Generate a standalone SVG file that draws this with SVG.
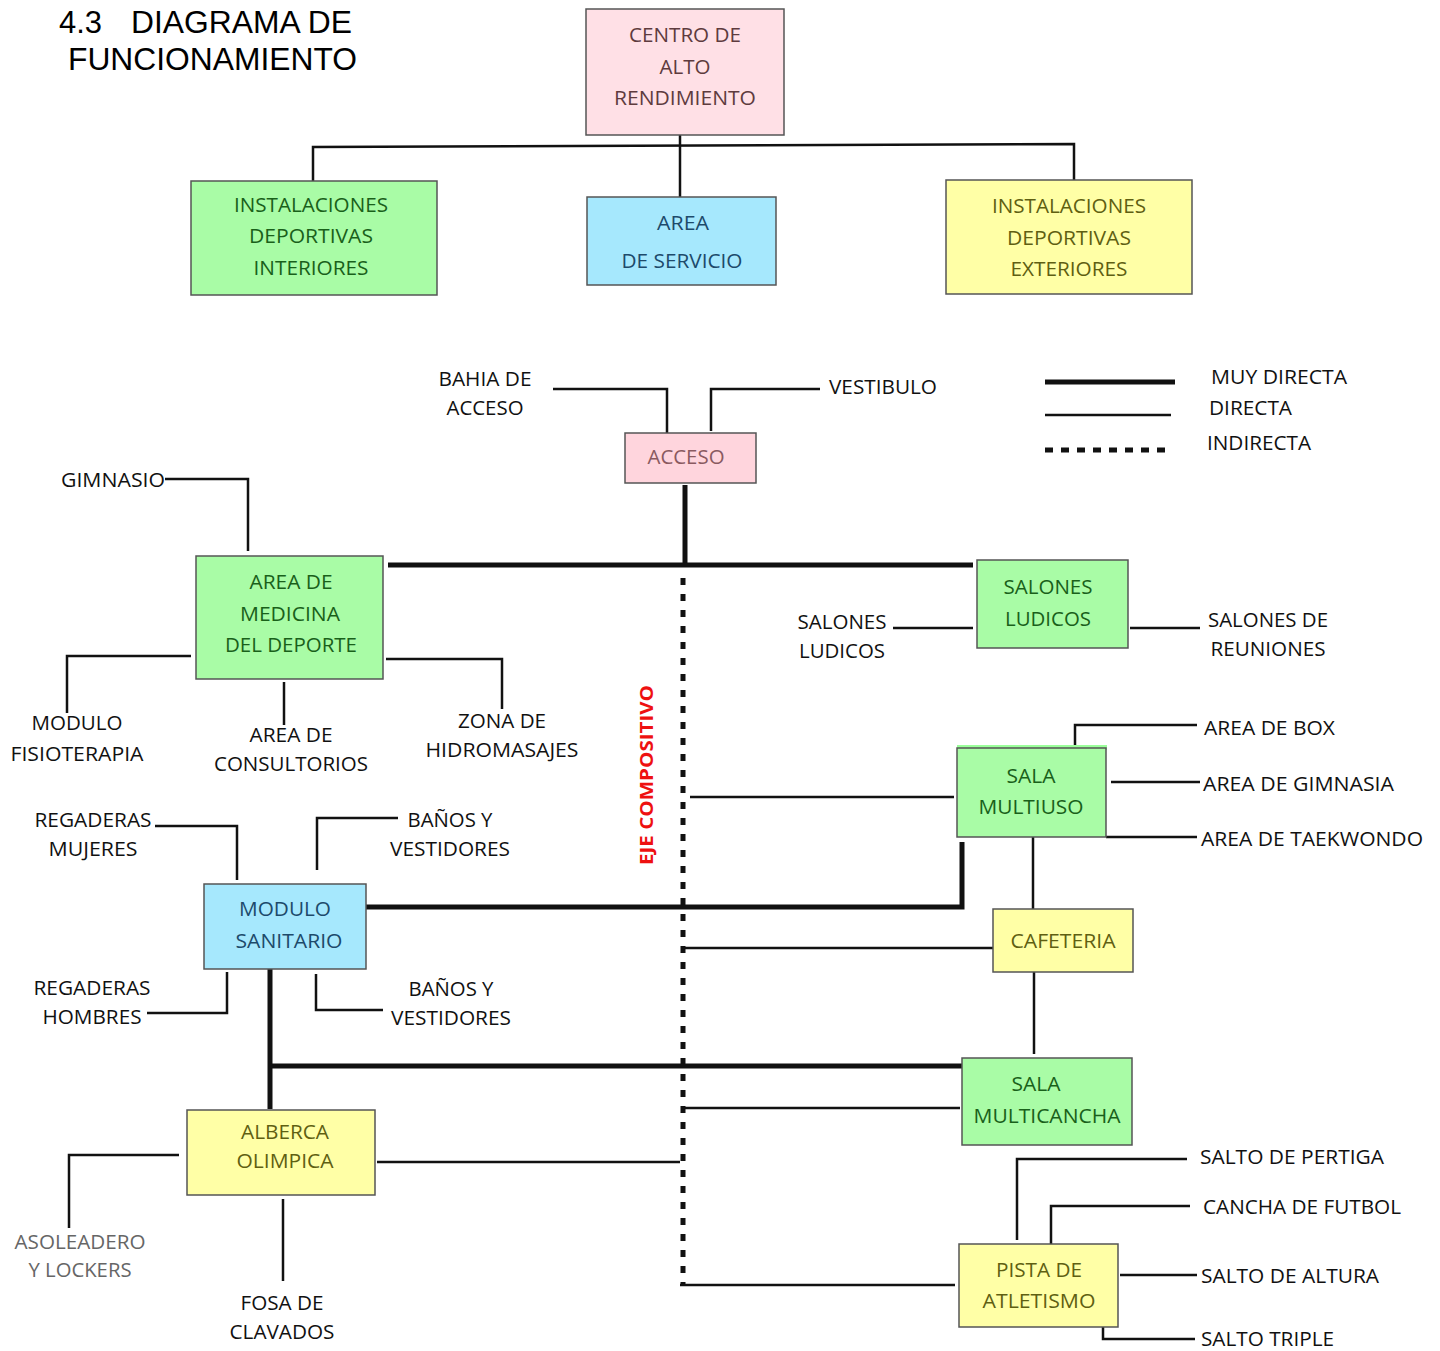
<svg xmlns="http://www.w3.org/2000/svg" width="1440" height="1351" viewBox="0 0 1440 1351">
<style>
text{font-family:"Open Sans","Liberation Sans",sans-serif;font-size:20px;text-anchor:middle;}
.title{font-family:"Liberation Sans",Arial,sans-serif;font-size:31.5px;text-anchor:start;fill:#000;}
.lbl{fill:#111;}
.st{text-anchor:start;}
.box{stroke:#555;stroke-width:1.5;}
.pink{fill:#ffe0e6;} .pinkT{fill:#5e3b3e;}
.pink2{fill:#ffd5dd;} .pink2T{fill:#8a5a60;}
.green{fill:#a9fca6;} .greenT{fill:#19601a;}
.blue{fill:#a6e8fd;} .blueT{fill:#1d4a6b;}
.yellow{fill:#ffffa6;} .yellowT{fill:#5f5f12;}
.thin{stroke:#111;stroke-width:2.5;fill:none;}
.thick{stroke:#111;stroke-width:5;fill:none;}
.dot{stroke:#111;stroke-width:5;fill:none;stroke-dasharray:7 9;}
.eje{fill:#ee1111;font-weight:bold;font-size:18px;}
</style>

<g id="title">
<text class="title" x="59" y="33" textLength="43" lengthAdjust="spacingAndGlyphs">4.3</text>
<text class="title" x="131" y="33" textLength="221" lengthAdjust="spacingAndGlyphs">DIAGRAMA DE</text>
<text class="title" x="68" y="70" textLength="289" lengthAdjust="spacingAndGlyphs">FUNCIONAMIENTO</text>
</g>

<g id="connectors">
<path class="thin" d="M313 181 V147 L1074 144 V180"/>
<path class="thin" d="M680 135 V197"/>
<path class="thin" d="M553 389 H667 V433"/>
<path class="thin" d="M820 389 H711 V431"/>
<path class="thick" d="M685 485 V565"/>
<path class="thick" d="M388 565 H973"/>
<path class="dot" d="M683 578 V1285"/>
<path class="thin" d="M165 479 H248 V551"/>
<path class="thin" d="M191 656 H67 V713"/>
<path class="thin" d="M284 682 V725"/>
<path class="thin" d="M386 659 H502 V709"/>
<path class="thin" d="M893 628 H973"/>
<path class="thin" d="M1130 628 H1200"/>
<path class="thin" d="M1075 748 V725 H1197"/>
<path class="thin" d="M1111 782 H1200"/>
<path class="thin" d="M1106 837 H1197"/>
<path class="thin" d="M690 797 H954"/>
<path class="thin" d="M1033 837 V909"/>
<path class="thick" d="M366 907 H962 V842"/>
<path class="thin" d="M155 826 H237 V880"/>
<path class="thin" d="M398 818 H317 V870"/>
<path class="thin" d="M147 1013 H227 V972"/>
<path class="thin" d="M316 974 V1010 H383"/>
<path class="thick" d="M270 969 V1109"/>
<path class="thick" d="M270 1066 H962"/>
<path class="thin" d="M683 948 H993"/>
<path class="thin" d="M1034 972 V1054"/>
<path class="thin" d="M683 1108 H960"/>
<path class="thin" d="M377 1162 H680"/>
<path class="thin" d="M179 1155 H69 V1228"/>
<path class="thin" d="M283 1199 V1281"/>
<path class="thin" d="M680 1285 H955"/>
<path class="thin" d="M1017 1240 V1159 H1187"/>
<path class="thin" d="M1051 1244 V1206 H1190"/>
<path class="thin" d="M1120 1275 H1197"/>
<path class="thin" d="M1103 1327 V1339 H1195"/>
</g>

<g id="legend">
<path class="thick" d="M1045 382 H1175"/>
<path class="thin" d="M1045 415 H1171"/>
<path stroke="#111" stroke-width="5" fill="none" stroke-dasharray="8 8" d="M1045 450 H1165"/>
<text class="lbl st" x="1211" y="384" textLength="136" lengthAdjust="spacingAndGlyphs">MUY DIRECTA</text>
<text class="lbl st" x="1209" y="415" textLength="83" lengthAdjust="spacingAndGlyphs">DIRECTA</text>
<text class="lbl st" x="1207" y="450" textLength="104" lengthAdjust="spacingAndGlyphs">INDIRECTA</text>
</g>

<g id="eje">
<text class="eje" transform="translate(653 775) rotate(-90)" textLength="180" lengthAdjust="spacingAndGlyphs">EJE COMPOSITIVO</text>
</g>

<g id="centro">
<rect class="box pink" x="586" y="9" width="198" height="126"/>
<text class="pinkT" x="685" y="42" textLength="112" lengthAdjust="spacingAndGlyphs">CENTRO DE</text>
<text class="pinkT" x="685" y="74" textLength="51" lengthAdjust="spacingAndGlyphs">ALTO</text>
<text class="pinkT" x="685" y="105" textLength="142" lengthAdjust="spacingAndGlyphs">RENDIMIENTO</text>
</g>

<g id="interiores">
<rect class="box green" x="191" y="181" width="246" height="114"/>
<text class="greenT" x="311" y="212" textLength="154" lengthAdjust="spacingAndGlyphs">INSTALACIONES</text>
<text class="greenT" x="311" y="243" textLength="124" lengthAdjust="spacingAndGlyphs">DEPORTIVAS</text>
<text class="greenT" x="311" y="275" textLength="115" lengthAdjust="spacingAndGlyphs">INTERIORES</text>
</g>

<g id="servicio">
<rect class="box blue" x="587" y="197" width="189" height="88"/>
<text class="blueT" x="683" y="230" textLength="52" lengthAdjust="spacingAndGlyphs">AREA</text>
<text class="blueT" x="682" y="268" textLength="121" lengthAdjust="spacingAndGlyphs">DE SERVICIO</text>
</g>

<g id="exteriores">
<rect class="box yellow" x="946" y="180" width="246" height="114"/>
<text class="yellowT" x="1069" y="213" textLength="154" lengthAdjust="spacingAndGlyphs">INSTALACIONES</text>
<text class="yellowT" x="1069" y="245" textLength="124" lengthAdjust="spacingAndGlyphs">DEPORTIVAS</text>
<text class="yellowT" x="1069" y="276" textLength="117" lengthAdjust="spacingAndGlyphs">EXTERIORES</text>
</g>

<g id="bahia">
<text class="lbl" x="485" y="386" textLength="93" lengthAdjust="spacingAndGlyphs">BAHIA DE</text>
<text class="lbl" x="485" y="415" textLength="77" lengthAdjust="spacingAndGlyphs">ACCESO</text>
</g>
<g id="vestibulo">
<text class="lbl st" x="829" y="394" textLength="108" lengthAdjust="spacingAndGlyphs">VESTIBULO</text>
</g>

<g id="acceso">
<rect class="box pink2" x="625" y="433" width="131" height="50"/>
<text class="pink2T" x="686" y="464" textLength="77" lengthAdjust="spacingAndGlyphs">ACCESO</text>
</g>

<g id="gimnasio">
<text class="lbl st" x="61" y="487" textLength="104" lengthAdjust="spacingAndGlyphs">GIMNASIO</text>
</g>

<g id="medicina">
<rect class="box green" x="196" y="556" width="187" height="123"/>
<text class="greenT" x="291" y="589" textLength="83" lengthAdjust="spacingAndGlyphs">AREA DE</text>
<text class="greenT" x="290" y="621" textLength="100" lengthAdjust="spacingAndGlyphs">MEDICINA</text>
<text class="greenT" x="291" y="652" textLength="132" lengthAdjust="spacingAndGlyphs">DEL DEPORTE</text>
</g>

<g id="fisioterapia">
<text class="lbl" x="77" y="730" textLength="91" lengthAdjust="spacingAndGlyphs">MODULO</text>
<text class="lbl" x="77" y="761" textLength="133" lengthAdjust="spacingAndGlyphs">FISIOTERAPIA</text>
</g>
<g id="consultorios">
<text class="lbl" x="291" y="742" textLength="83" lengthAdjust="spacingAndGlyphs">AREA DE</text>
<text class="lbl" x="291" y="771" textLength="154" lengthAdjust="spacingAndGlyphs">CONSULTORIOS</text>
</g>
<g id="hidromasajes">
<text class="lbl" x="502" y="728" textLength="88" lengthAdjust="spacingAndGlyphs">ZONA DE</text>
<text class="lbl" x="502" y="757" textLength="153" lengthAdjust="spacingAndGlyphs">HIDROMASAJES</text>
</g>

<g id="salones">
<rect class="box green" x="977" y="560" width="151" height="88"/>
<text class="greenT" x="1048" y="594" textLength="89" lengthAdjust="spacingAndGlyphs">SALONES</text>
<text class="greenT" x="1048" y="626" textLength="86" lengthAdjust="spacingAndGlyphs">LUDICOS</text>
</g>
<g id="salones-ludicos-lbl">
<text class="lbl" x="842" y="629" textLength="89" lengthAdjust="spacingAndGlyphs">SALONES</text>
<text class="lbl" x="842" y="658" textLength="86" lengthAdjust="spacingAndGlyphs">LUDICOS</text>
</g>
<g id="reuniones">
<text class="lbl" x="1268" y="627" textLength="120" lengthAdjust="spacingAndGlyphs">SALONES DE</text>
<text class="lbl" x="1268" y="656" textLength="115" lengthAdjust="spacingAndGlyphs">REUNIONES</text>
</g>

<g id="multiuso">
<rect x="957" y="745" width="150" height="5" fill="#9bff9b"/>
<rect class="box green" x="957" y="748" width="149" height="89"/>
<text class="greenT" x="1031" y="783" textLength="49" lengthAdjust="spacingAndGlyphs">SALA</text>
<text class="greenT" x="1031" y="814" textLength="105" lengthAdjust="spacingAndGlyphs">MULTIUSO</text>
</g>
<g id="box-lbl"><text class="lbl st" x="1204" y="735" textLength="131" lengthAdjust="spacingAndGlyphs">AREA DE BOX</text></g>
<g id="gimnasia-lbl"><text class="lbl st" x="1203" y="791" textLength="191" lengthAdjust="spacingAndGlyphs">AREA DE GIMNASIA</text></g>
<g id="taekwondo-lbl"><text class="lbl st" x="1201" y="846" textLength="222" lengthAdjust="spacingAndGlyphs">AREA DE TAEKWONDO</text></g>

<g id="sanitario">
<rect class="box blue" x="204" y="884" width="162" height="85"/>
<text class="blueT" x="285" y="916" textLength="92" lengthAdjust="spacingAndGlyphs">MODULO</text>
<text class="blueT" x="289" y="948" textLength="107" lengthAdjust="spacingAndGlyphs">SANITARIO</text>
</g>
<g id="regaderas-m">
<text class="lbl" x="93" y="827" textLength="117" lengthAdjust="spacingAndGlyphs">REGADERAS</text>
<text class="lbl" x="93" y="856" textLength="89" lengthAdjust="spacingAndGlyphs">MUJERES</text>
</g>
<g id="banos-1">
<text class="lbl" x="450" y="827" textLength="85" lengthAdjust="spacingAndGlyphs">BAÑOS Y</text>
<text class="lbl" x="450" y="856" textLength="120" lengthAdjust="spacingAndGlyphs">VESTIDORES</text>
</g>
<g id="regaderas-h">
<text class="lbl" x="92" y="995" textLength="117" lengthAdjust="spacingAndGlyphs">REGADERAS</text>
<text class="lbl" x="92" y="1024" textLength="99" lengthAdjust="spacingAndGlyphs">HOMBRES</text>
</g>
<g id="banos-2">
<text class="lbl" x="451" y="996" textLength="85" lengthAdjust="spacingAndGlyphs">BAÑOS Y</text>
<text class="lbl" x="451" y="1025" textLength="120" lengthAdjust="spacingAndGlyphs">VESTIDORES</text>
</g>

<g id="cafeteria">
<rect class="box yellow" x="993" y="909" width="140" height="63"/>
<text class="yellowT" x="1063" y="948" textLength="105" lengthAdjust="spacingAndGlyphs">CAFETERIA</text>
</g>

<g id="multicancha">
<rect class="box green" x="962" y="1058" width="170" height="87"/>
<text class="greenT" x="1036" y="1091" textLength="49" lengthAdjust="spacingAndGlyphs">SALA</text>
<text class="greenT" x="1047" y="1123" textLength="147" lengthAdjust="spacingAndGlyphs">MULTICANCHA</text>
</g>

<g id="alberca">
<rect class="box yellow" x="187" y="1110" width="188" height="85"/>
<text class="yellowT" x="285" y="1139" textLength="88" lengthAdjust="spacingAndGlyphs">ALBERCA</text>
<text class="yellowT" x="285" y="1168" textLength="97" lengthAdjust="spacingAndGlyphs">OLIMPICA</text>
</g>
<g id="asoleadero">
<text x="80" y="1249" fill="#666" textLength="131" lengthAdjust="spacingAndGlyphs">ASOLEADERO</text>
<text x="80" y="1277" fill="#666" textLength="103" lengthAdjust="spacingAndGlyphs">Y LOCKERS</text>
</g>
<g id="fosa">
<text class="lbl" x="282" y="1310" textLength="83" lengthAdjust="spacingAndGlyphs">FOSA DE</text>
<text class="lbl" x="282" y="1339" textLength="105" lengthAdjust="spacingAndGlyphs">CLAVADOS</text>
</g>

<g id="pista">
<rect class="box yellow" x="959" y="1244" width="159" height="83"/>
<text class="yellowT" x="1039" y="1277" textLength="86" lengthAdjust="spacingAndGlyphs">PISTA DE</text>
<text class="yellowT" x="1039" y="1308" textLength="113" lengthAdjust="spacingAndGlyphs">ATLETISMO</text>
</g>
<g id="pertiga-lbl"><text class="lbl st" x="1200" y="1164" textLength="184" lengthAdjust="spacingAndGlyphs">SALTO DE PERTIGA</text></g>
<g id="futbol-lbl"><text class="lbl st" x="1203" y="1214" textLength="198" lengthAdjust="spacingAndGlyphs">CANCHA DE FUTBOL</text></g>
<g id="altura-lbl"><text class="lbl st" x="1201" y="1283" textLength="178" lengthAdjust="spacingAndGlyphs">SALTO DE ALTURA</text></g>
<g id="triple-lbl"><text class="lbl st" x="1201" y="1346" textLength="133" lengthAdjust="spacingAndGlyphs">SALTO TRIPLE</text></g>
</svg>
